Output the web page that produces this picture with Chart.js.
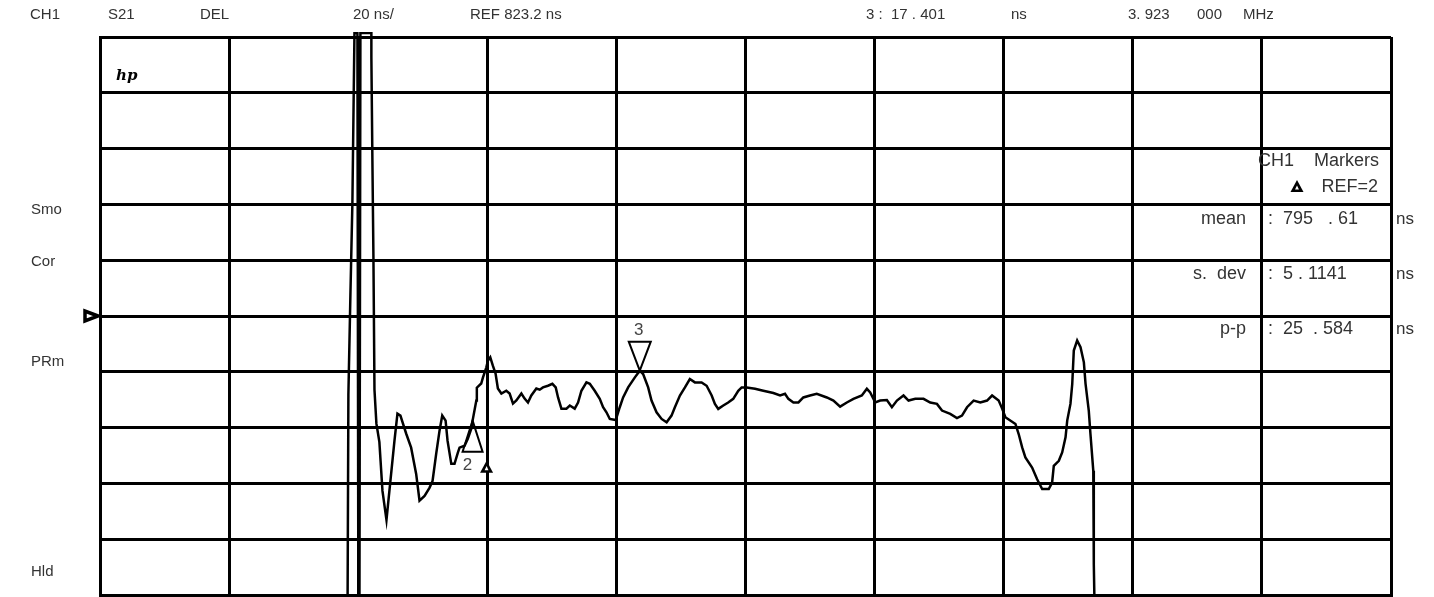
<!DOCTYPE html>
<html lang="en">
<head>
  <meta charset="UTF-8">
  <title>CH1 S21 DEL</title>
  <script src="https://cdn.jsdelivr.net/npm/chart.js"></script>
  <style>
    html, body { margin: 0; padding: 0; background: #fff; }
    #wrap { width: 1434px; height: 597px; }
  </style>
</head>
<body>
<div id="wrap"><canvas id="delayChart" width="1434" height="597"></canvas></div>
<script>
  // grid: 10 divisions across, 20 ns/div around REF 823.2 ns
  const xTicks = [0, 1, 2, 3, 4, 5, 6, 7, 8, 9, 10];
  const yTicks = [723.2, 743.2, 763.2, 783.2, 803.2, 823.2, 843.2, 863.2, 883.2, 903.2, 923.2];

  // trace position in divisions, group delay in ns (off-screen values are clipped)
  const delayX = [
    1.916, 1.924, 1.940, 1.955, 1.971, 1.994, 2.002, 2.009, 2.017, 2.102,
    2.102, 2.110, 2.118, 2.126, 2.141, 2.164, 2.188, 2.219, 2.281, 2.304,
    2.327, 2.372, 2.410, 2.449, 2.475, 2.514, 2.552, 2.576, 2.604, 2.630,
    2.651, 2.677, 2.692, 2.721, 2.746, 2.772, 2.785, 2.824, 2.849, 2.876,
    2.886, 2.915, 2.919, 2.953, 2.966, 2.992, 3.005, 3.023, 3.043, 3.064,
    3.082, 3.109, 3.147, 3.173, 3.199, 3.225, 3.264, 3.289, 3.315, 3.341,
    3.380, 3.406, 3.431, 3.470, 3.504, 3.530, 3.548, 3.574, 3.613, 3.639,
    3.677, 3.703, 3.729, 3.768, 3.794, 3.832, 3.871, 3.897, 3.923, 3.949,
    3.995, 4.026, 4.052, 4.091, 4.143, 4.181, 4.207, 4.246, 4.272, 4.311,
    4.350, 4.389, 4.427, 4.453, 4.492, 4.531, 4.569, 4.608, 4.660, 4.699,
    4.738, 4.763, 4.789, 4.828, 4.866, 4.905, 4.944, 4.970, 5.009, 5.074,
    5.138, 5.216, 5.268, 5.306, 5.332, 5.371, 5.410, 5.448, 5.500, 5.552,
    5.630, 5.681, 5.733, 5.785, 5.836, 5.901, 5.940, 5.966, 6.005, 6.043,
    6.095, 6.134, 6.173, 6.224, 6.263, 6.315, 6.379, 6.431, 6.483, 6.522,
    6.586, 6.638, 6.677, 6.716, 6.767, 6.819, 6.871, 6.910, 6.961, 6.988,
    7.013, 7.091, 7.116, 7.143, 7.168, 7.220, 7.259, 7.298, 7.349, 7.375,
    7.388, 7.427, 7.453, 7.479, 7.492, 7.517, 7.531, 7.543, 7.569, 7.595,
    7.621, 7.634, 7.659, 7.672, 7.694, 7.698, 7.711
  ];
  const delayNs = [
    700, 795.0, 831.6, 863.6, 924.6, 924.6, 700, 700, 924.6, 924.6,
    916.0, 879.0, 844.2, 796.8, 784.6, 778.1, 760.5, 750.1, 778.5, 788.2,
    787.5, 781.0, 776.0, 766.6, 757.0, 758.7, 761.6, 764.1, 773.8, 782.1,
    787.5, 785.7, 778.5, 770.2, 770.2, 774.2, 776.0, 776.7, 779.2, 782.8,
    785.7, 792.9, 797.5, 799.0, 801.1, 804.7, 807.2, 808.4, 805.4, 802.6,
    797.2, 795.4, 796.4, 795.4, 791.8, 792.9, 795.4, 793.6, 792.2, 794.7,
    797.2, 796.8, 797.6, 798.2, 798.9, 797.6, 794.0, 790.0, 790.0, 791.1,
    790.0, 792.2, 796.4, 799.4, 798.9, 796.4, 793.5, 790.5, 788.7, 786.3,
    785.9, 790.5, 794.0, 797.6, 801.2, 803.6, 802.4, 797.6, 792.9, 788.7,
    786.3, 785.1, 787.5, 790.5, 794.7, 797.6, 800.6, 799.4, 799.4, 798.2,
    794.7, 791.7, 789.9, 791.1, 792.2, 793.5, 796.4, 797.6, 797.6, 797.1,
    796.4, 795.6, 794.7, 795.3, 793.5, 792.2, 792.2, 794.0, 794.7, 795.3,
    794.0, 792.9, 790.7, 792.2, 793.5, 794.7, 797.1, 795.8, 792.2, 792.9,
    793.1, 790.5, 792.9, 794.7, 792.9, 793.5, 793.5, 792.2, 791.7, 789.3,
    788.1, 786.6, 787.5, 790.5, 792.9, 792.2, 792.9, 794.7, 792.9, 790.0,
    786.9, 784.5, 780.9, 776.1, 772.5, 768.9, 764.7, 761.2, 761.2, 763.5,
    769.5, 771.3, 774.3, 779.7, 785.7, 791.7, 798.9, 810.8, 814.4, 812.0,
    806.6, 798.9, 789.3, 780.9, 767.7, 734.2, 700
  ];

  const refNs = 823.2;
  const markerNames = ['2', '3'];
  const markerX = [2.886, 4.181];
  const markerNs = [785.7, 803.6];

  const FONT = '"Liberation Sans", Arial, sans-serif';

  function txt(ctx, s, x, y, align, size) {
    ctx.font = (size || 16) + 'px ' + FONT;
    ctx.textAlign = align || 'left';
    ctx.textBaseline = 'middle';
    ctx.fillText(s, x, y);
  }

  // small filled delta (reference marker symbol)
  function delta(ctx, cx, top, w, h) {
    ctx.fillStyle = '#000';
    ctx.beginPath();
    ctx.moveTo(cx, top);
    ctx.lineTo(cx - w / 2, top + h);
    ctx.lineTo(cx + w / 2, top + h);
    ctx.closePath();
    ctx.fill();
    ctx.fillStyle = '#fff';
    ctx.beginPath();
    ctx.moveTo(cx, top + h * 0.45);
    ctx.lineTo(cx - w * 0.15, top + h * 0.8);
    ctx.lineTo(cx + w * 0.15, top + h * 0.8);
    ctx.closePath();
    ctx.fill();
  }

  const overlay = {
    id: 'overlay',
    afterDatasetsDraw(chart) {
      const ctx = chart.ctx;
      const xs = chart.scales.x, ys = chart.scales.y;
      ctx.save();
      ctx.strokeStyle = '#000';
      ctx.lineWidth = 2;
      ctx.lineJoin = 'miter';

      // marker 2 (reference), upward triangle under the trace point
      let px = xs.getPixelForValue(markerX[0]), py = ys.getPixelForValue(markerNs[0]);
      ctx.beginPath();
      ctx.moveTo(px, py);
      ctx.lineTo(px - 10, py + 31);
      ctx.lineTo(px + 10, py + 31);
      ctx.closePath();
      ctx.stroke();
      ctx.fillStyle = '#444';
      txt(ctx, markerNames[0], px - 5, py + 45, 'center', 17);
      delta(ctx, px + 14, py + 40, 13, 12);

      // marker 3, downward triangle above the trace point
      px = xs.getPixelForValue(markerX[1]); py = ys.getPixelForValue(markerNs[1]);
      ctx.beginPath();
      ctx.moveTo(px, py);
      ctx.lineTo(px - 11, py - 29);
      ctx.lineTo(px + 11, py - 29);
      ctx.closePath();
      ctx.stroke();
      ctx.fillStyle = '#444';
      txt(ctx, markerNames[1], px - 1, py - 40, 'center', 17);

      // reference position arrow at left edge
      const ry = ys.getPixelForValue(refNs);
      const lx = chart.chartArea.left;
      ctx.lineWidth = 3.5;
      ctx.beginPath();
      ctx.moveTo(lx - 2, ry);
      ctx.lineTo(lx - 15, ry - 5);
      ctx.lineTo(lx - 15, ry + 5);
      ctx.closePath();
      ctx.stroke();

      // header line
      ctx.fillStyle = '#333';
      const head = [['CH1', 30], ['S21', 108], ['DEL', 200], ['20 ns/', 353], ['REF 823.2 ns', 470],
                    ['3 :  17 . 401', 866], ['ns', 1011], ['3. 923', 1128], ['000', 1197], ['MHz', 1243]];
      head.forEach(h => txt(ctx, h[0], h[1], 15, 'left', 15));

      // left annotations
      [['Smo', 210], ['Cor', 262], ['PRm', 362], ['Hld', 572]].forEach(a => txt(ctx, a[0], 31, a[1], 'left', 15));

      // marker statistics panel
      txt(ctx, 'CH1    Markers', 1379, 161, 'right', 18);
      txt(ctx, 'REF=2', 1378, 187, 'right', 18);
      delta(ctx, 1297, 180, 13, 12);
      ctx.fillStyle = '#333';
      const stats = [['mean', ':  795   . 61', 219], ['s.  dev', ':  5 . 1141', 274], ['p-p', ':  25  . 584', 329]];
      stats.forEach(s => {
        txt(ctx, s[0], 1246, s[2], 'right', 18);
        txt(ctx, s[1], 1268, s[2], 'left', 18);
        txt(ctx, 'ns', 1396, s[2], 'left', 17);
      });

      // hp logo
      ctx.fillStyle = '#000';
      ctx.font = 'italic bold 15px "DejaVu Serif", serif';
      ctx.textAlign = 'left';
      ctx.textBaseline = 'middle';
      ctx.fillText('hp', 116, 76);

      ctx.restore();
    }
  };

  const gridStyle = { color: '#000', lineWidth: 3, drawTicks: false };
  const borderStyle = { display: true, color: '#000', width: 3 };

  new Chart(document.getElementById('delayChart'), {
    type: 'line',
    data: {
      datasets: [{
        label: 'S21 DEL',
        data: delayX.map((x, i) => ({ x: x, y: delayNs[i] })),
        borderColor: '#000',
        borderWidth: 2.5,
        pointRadius: 0,
        tension: 0,
        fill: false,
        clip: { left: 0, top: 5, right: 0, bottom: 0 }
      }]
    },
    options: {
      responsive: false,
      animation: false,
      devicePixelRatio: 1,
      layout: { padding: { left: 100, top: 37, right: 43, bottom: 2 } },
      plugins: { legend: { display: false }, tooltip: { enabled: false } },
      scales: {
        x: {
          type: 'linear', min: 0, max: 10,
          afterBuildTicks: a => { a.ticks = xTicks.map(v => ({ value: v })); },
          ticks: { display: false },
          grid: gridStyle,
          border: borderStyle
        },
        y: {
          type: 'linear', min: 723.2, max: 923.2,
          afterBuildTicks: a => { a.ticks = yTicks.map(v => ({ value: v })); },
          ticks: { display: false },
          grid: gridStyle,
          border: borderStyle
        }
      }
    },
    plugins: [overlay]
  });
</script>
</body>
</html>
